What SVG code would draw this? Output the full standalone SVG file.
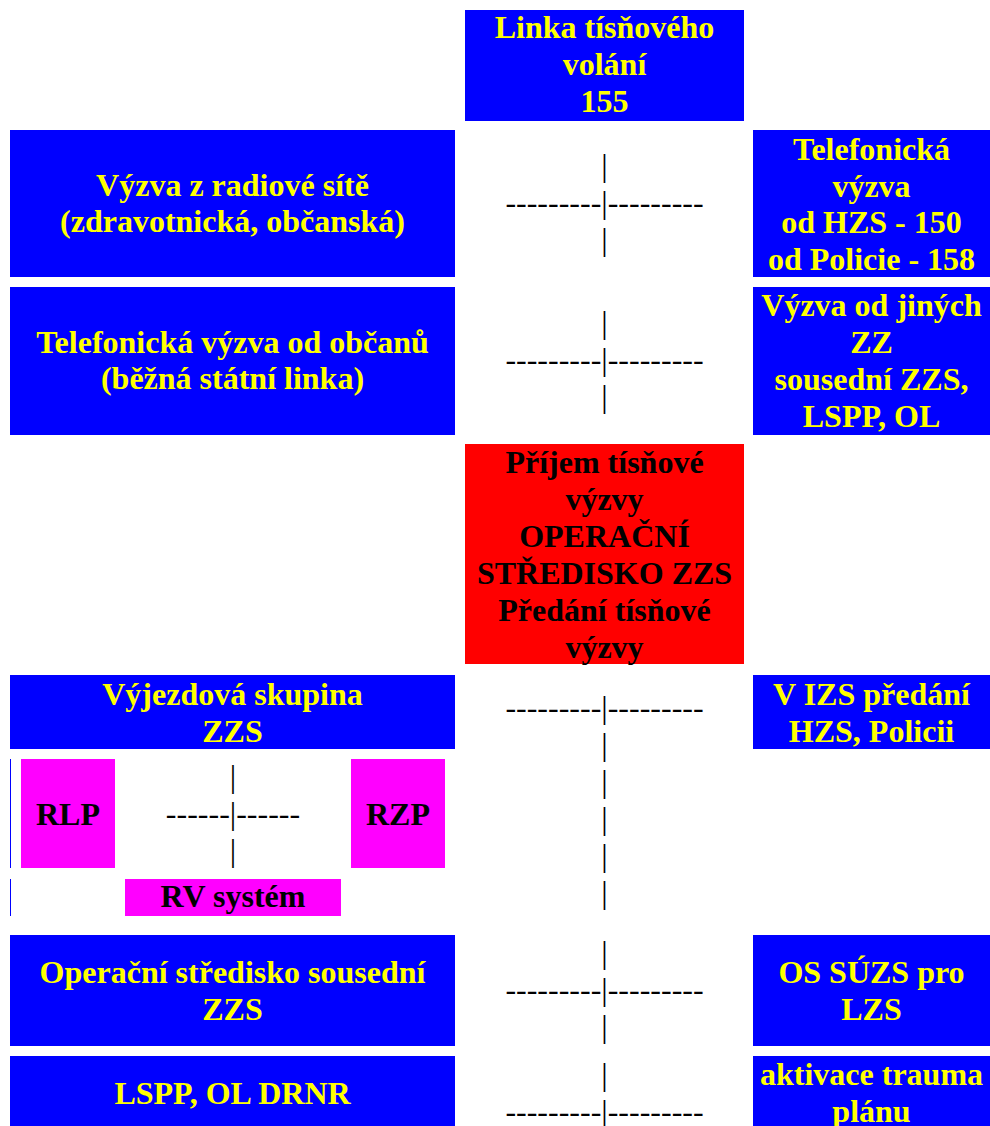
<svg xmlns="http://www.w3.org/2000/svg" width="990" height="1126" viewBox="0 0 990 1126">
<style>
.b{fill:#0000FF}
.r{fill:#FF0000}
.m{fill:#FF00FF}
text{font-family:"Liberation Serif","Times New Roman",serif;font-size:32px;text-anchor:middle}
.y{fill:#FFFF00;font-weight:bold}
.k{fill:#000000;font-weight:bold}
.c{fill:#000000;font-weight:normal}
</style>
<rect width="990" height="1126" fill="#FFFFFF"/>
<g id="n-linka">
<rect class="b" x="465" y="10" width="279" height="111"/>
<text class="y" x="604.5" y="38">Linka tísňového</text>
<text class="y" x="604.5" y="75">volání</text>
<text class="y" x="604.5" y="112">155</text>
</g>
<g id="n-radio">
<rect class="b" x="10" y="130" width="445" height="147"/>
<text class="y" x="232.5" y="196">Výzva z radiové sítě</text>
<text class="y" x="232.5" y="232">(zdravotnická, občanská)</text>
</g>
<g id="n-telhzs">
<rect class="b" x="753" y="130" width="237" height="147"/>
<text class="y" x="871.5" y="160">Telefonická</text>
<text class="y" x="871.5" y="197">výzva</text>
<text class="y" x="871.5" y="233">od HZS - 150</text>
<text class="y" x="871.5" y="270">od Policie - 158</text>
</g>
<g id="n-telobcan">
<rect class="b" x="10" y="287" width="445" height="148"/>
<text class="y" x="232.5" y="353">Telefonická výzva od občanů</text>
<text class="y" x="232.5" y="389">(běžná státní linka)</text>
</g>
<g id="n-jinezz">
<rect class="b" x="753" y="287" width="237" height="148"/>
<text class="y" x="871.5" y="316">Výzva od jiných</text>
<text class="y" x="871.5" y="353">ZZ</text>
<text class="y" x="871.5" y="390">sousední ZZS,</text>
<text class="y" x="871.5" y="427">LSPP, OL</text>
</g>
<g id="n-os">
<rect class="r" x="465" y="444" width="279" height="220"/>
<text class="k" x="604.5" y="473">Příjem tísňové</text>
<text class="k" x="604.5" y="510">výzvy</text>
<text class="k" x="604.5" y="547">OPERAČNÍ</text>
<text class="k" x="604.5" y="584">STŘEDISKO ZZS</text>
<text class="k" x="604.5" y="621">Předání tísňové</text>
<text class="k" x="604.5" y="658">výzvy</text>
</g>
<g id="n-vyjezd">
<rect class="b" x="10" y="675" width="445" height="74"/>
<text class="y" x="232.5" y="705">Výjezdová skupina</text>
<text class="y" x="232.5" y="742">ZZS</text>
</g>
<g id="n-izs">
<rect class="b" x="753" y="675" width="237" height="74"/>
<text class="y" x="871.5" y="705">V IZS předání</text>
<text class="y" x="871.5" y="742">HZS, Policii</text>
</g>
<g id="n-cellborders">
<line x1="10.5" y1="759" x2="10.5" y2="868" stroke="#0000FF" stroke-width="1"/>
<line x1="10.5" y1="879" x2="10.5" y2="916" stroke="#0000FF" stroke-width="1"/>
</g>
<g id="n-rlp">
<rect class="m" x="21" y="759" width="94" height="109"/>
<text class="k" x="68" y="825">RLP</text>
</g>
<g id="n-rzp">
<rect class="m" x="351" y="759" width="94" height="109"/>
<text class="k" x="398" y="825">RZP</text>
</g>
<g id="n-rv">
<rect class="m" x="125" y="879" width="216" height="37"/>
<text class="k" x="233" y="907">RV systém</text>
</g>
<g id="n-ossous">
<rect class="b" x="10" y="935" width="445" height="111"/>
<text class="y" x="232.5" y="983">Operační středisko sousední</text>
<text class="y" x="232.5" y="1020">ZZS</text>
</g>
<g id="n-osuzs">
<rect class="b" x="753" y="935" width="237" height="111"/>
<text class="y" x="871.5" y="983">OS SÚZS pro</text>
<text class="y" x="871.5" y="1020">LZS</text>
</g>
<g id="n-lspp">
<rect class="b" x="10" y="1056" width="445" height="70"/>
<text class="y" x="232.5" y="1104">LSPP, OL DRNR</text>
</g>
<g id="n-trauma">
<rect class="b" x="753" y="1056" width="237" height="70"/>
<text class="y" x="871.5" y="1085">aktivace trauma</text>
<text class="y" x="871.5" y="1122">plánu</text>
</g>
<g id="connectors">
<text class="c" x="604.5" y="176">|</text>
<text class="c" x="604.5" y="213">---------|---------</text>
<text class="c" x="604.5" y="250">|</text>
<text class="c" x="604.5" y="333">|</text>
<text class="c" x="604.5" y="370">---------|---------</text>
<text class="c" x="604.5" y="407">|</text>
<text class="c" x="604.5" y="718">---------|---------</text>
<text class="c" x="604.5" y="755">|</text>
<text class="c" x="604.5" y="792">|</text>
<text class="c" x="604.5" y="829">|</text>
<text class="c" x="604.5" y="866">|</text>
<text class="c" x="604.5" y="903">|</text>
<text class="c" x="233" y="787">|</text>
<text class="c" x="233" y="824">------|------</text>
<text class="c" x="233" y="861">|</text>
<text class="c" x="604.5" y="963">|</text>
<text class="c" x="604.5" y="1000">---------|---------</text>
<text class="c" x="604.5" y="1037">|</text>
<text class="c" x="604.5" y="1085">|</text>
<text class="c" x="604.5" y="1122">---------|---------</text>
</g>
</svg>
